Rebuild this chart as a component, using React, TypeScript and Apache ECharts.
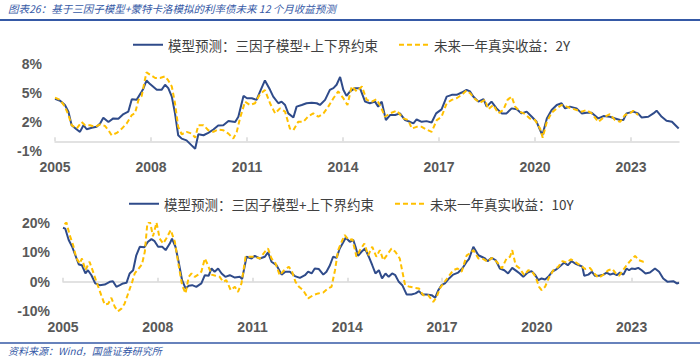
import React, { useEffect, useRef } from "react";
import * as echarts from "echarts";

const TITLE = "图表26：基于三因子模型+蒙特卡洛模拟的利率债未来 12 个月收益预测";
const SOURCE = "资料来源：Wind，国盛证券研究所";
const MODEL_NAME = "模型预测：三因子模型+上下界约束";
const REAL_2Y = "未来一年真实收益：2Y";
const REAL_10Y = "未来一年真实收益：10Y";

const yearTicks = [2005, 2008, 2011, 2014, 2017, 2020, 2023];
const topYTicks = [-1, 2, 5, 8];
const bottomYTicks = [-10, 0, 10, 20];

// [decimal year, %]
const model2Y: [number, number][] = [
  [2005.0, 4.39], [2005.16, 4.2], [2005.31, 3.76], [2005.42, 3.07], [2005.52, 1.67], [2005.68, 1.22], [2005.78, 0.98], [2005.89, 1.67], [2005.99, 1.25], [2006.15, 1.4], [2006.3, 1.5], [2006.41, 1.85], [2006.51, 2.44], [2006.67, 2.0], [2006.82, 2.37], [2006.98, 2.33], [2007.14, 2.82], [2007.29, 3.07], [2007.4, 4.36], [2007.55, 4.29], [2007.71, 5.16], [2007.76, 5.44], [2007.86, 6.3], [2007.97, 5.92], [2008.18, 5.33], [2008.33, 5.33], [2008.44, 5.85], [2008.54, 5.5], [2008.65, 4.63], [2008.75, 2.9], [2008.85, 0.63], [2008.96, 0.28], [2009.11, 0.1], [2009.27, -0.42], [2009.38, -0.77], [2009.48, 0.73], [2009.64, 0.63], [2009.79, 0.87], [2009.95, 1.22], [2010.1, 1.64], [2010.26, 1.67], [2010.42, 2.1], [2010.63, 2.0], [2010.73, 2.54], [2010.89, 4.7], [2011.0, 4.46], [2011.15, 4.46], [2011.3, 4.29],
  [2011.41, 5.16], [2011.56, 6.3], [2011.72, 5.33], [2011.82, 4.63], [2011.98, 3.94], [2012.08, 4.11], [2012.19, 3.76], [2012.29, 2.89], [2012.45, 2.47], [2012.55, 3.59], [2012.71, 3.76], [2012.86, 3.94], [2013.02, 4.0], [2013.18, 3.94], [2013.28, 3.76], [2013.44, 4.29], [2013.59, 5.33], [2013.7, 5.5], [2013.8, 5.85], [2013.91, 6.66], [2014.01, 5.33], [2014.11, 4.7], [2014.22, 5.16], [2014.38, 5.5], [2014.53, 5.5], [2014.69, 4.11], [2014.84, 3.94], [2015.0, 4.11], [2015.1, 3.59], [2015.21, 4.11], [2015.34, 2.2], [2015.47, 2.72], [2015.63, 2.72], [2015.78, 2.89], [2015.94, 2.2], [2016.09, 2.02], [2016.2, 1.85], [2016.3, 2.26], [2016.46, 2.02], [2016.61, 2.09], [2016.77, 1.95], [2016.91, 2.89], [2017.08, 3.31], [2017.24, 4.63], [2017.4, 4.81], [2017.55, 4.81], [2017.71, 5.05], [2017.86, 5.33],
  [2017.97, 5.16], [2018.07, 4.63], [2018.23, 4.11], [2018.39, 4.36], [2018.49, 3.59], [2018.64, 4.11], [2018.8, 3.41], [2018.96, 2.89], [2019.11, 2.89], [2019.27, 3.41], [2019.43, 3.31], [2019.58, 2.89], [2019.74, 3.07], [2019.9, 2.54], [2020.05, 2.02], [2020.16, 1.15], [2020.23, 0.63], [2020.37, 2.37], [2020.52, 3.24], [2020.68, 3.76], [2020.83, 3.94], [2020.94, 3.41], [2021.09, 3.59], [2021.3, 3.41], [2021.46, 2.89], [2021.61, 2.96], [2021.77, 2.96], [2021.98, 2.37], [2022.14, 2.61], [2022.34, 2.54], [2022.5, 2.37], [2022.66, 2.2], [2022.76, 2.2], [2022.86, 2.89], [2023.07, 3.07], [2023.22, 2.89], [2023.33, 2.47], [2023.54, 2.54], [2023.7, 2.89], [2023.8, 3.17], [2023.96, 2.54], [2024.11, 2.13], [2024.28, 2.02], [2024.49, 1.32],
];

const real2Y: [number, number][] = [
  [2005.0, 4.53], [2005.16, 4.29], [2005.31, 3.59], [2005.42, 2.72], [2005.52, 1.67], [2005.68, 1.32], [2005.83, 2.0], [2005.94, 1.67], [2006.09, 1.67], [2006.25, 1.5], [2006.41, 1.74], [2006.56, 1.6], [2006.67, 1.15], [2006.77, 0.63], [2006.93, 0.87], [2007.09, 1.32], [2007.24, 1.85], [2007.4, 2.72], [2007.5, 2.9], [2007.61, 4.29], [2007.71, 4.7], [2007.81, 6.38], [2007.86, 7.14], [2007.97, 6.9], [2008.13, 6.55], [2008.28, 6.55], [2008.44, 6.72], [2008.54, 6.3], [2008.65, 5.68], [2008.75, 3.94], [2008.85, 1.5], [2008.96, 0.73], [2009.11, 0.98], [2009.27, 0.8], [2009.38, 0.38], [2009.48, 1.67], [2009.64, 1.67], [2009.79, 1.15], [2009.95, 0.98], [2010.1, 1.22], [2010.26, 1.15], [2010.42, 0.8], [2010.57, 0.28], [2010.68, 0.98], [2010.78, 2.37], [2010.94, 4.11], [2011.09, 3.76], [2011.25, 3.94],
  [2011.41, 4.9], [2011.56, 5.3], [2011.72, 3.94], [2011.88, 2.89], [2012.03, 3.41], [2012.19, 3.07], [2012.34, 1.32], [2012.45, 1.15], [2012.6, 2.02], [2012.76, 2.02], [2012.92, 2.61], [2013.07, 2.89], [2013.23, 2.54], [2013.39, 2.89], [2013.54, 3.59], [2013.7, 4.46], [2013.85, 5.16], [2014.01, 4.46], [2014.14, 3.76], [2014.27, 5.68], [2014.43, 5.16], [2014.59, 5.68], [2014.74, 4.29], [2014.9, 4.11], [2015.05, 4.36], [2015.18, 3.59], [2015.31, 2.54], [2015.47, 2.89], [2015.68, 3.17], [2015.89, 2.37], [2016.04, 2.2], [2016.15, 1.32], [2016.3, 1.5], [2016.46, 1.5], [2016.61, 1.22], [2016.77, 0.98], [2016.93, 2.2], [2017.08, 2.54], [2017.24, 3.94], [2017.4, 4.29], [2017.55, 4.46], [2017.71, 4.81], [2017.86, 5.26],
  [2017.97, 4.98], [2018.13, 4.36], [2018.28, 4.0], [2018.44, 4.29], [2018.54, 3.31], [2018.7, 3.76], [2018.85, 2.89], [2019.01, 3.24], [2019.14, 4.29], [2019.27, 4.63], [2019.38, 3.59], [2019.53, 3.07], [2019.69, 2.82], [2019.84, 2.37], [2020.0, 2.2], [2020.16, 1.32], [2020.24, 0.38], [2020.37, 2.02], [2020.52, 2.96], [2020.68, 3.41], [2020.83, 3.76], [2020.99, 3.59], [2021.14, 3.41], [2021.3, 3.24], [2021.46, 3.07], [2021.61, 3.24], [2021.77, 2.89], [2021.98, 2.02], [2022.14, 2.47], [2022.34, 2.82], [2022.5, 2.2], [2022.66, 2.02], [2022.81, 2.72], [2022.97, 2.89], [2023.07, 3.17], [2023.22, 2.72],
];

const model10Y: [number, number][] = [
  [2005.0, 18.37], [2005.07, 18.1], [2005.18, 14.2], [2005.29, 11.9], [2005.39, 9.0], [2005.5, 5.86], [2005.6, 5.6], [2005.71, 2.8], [2005.79, 3.9], [2005.9, 2.2], [2006.02, -0.6], [2006.16, -1.2], [2006.32, -0.97], [2006.48, -0.06], [2006.58, 0.17], [2006.69, -1.76], [2006.8, -1.2], [2006.9, -0.6], [2007.01, -0.4], [2007.11, 2.8], [2007.22, 3.9], [2007.32, 9.0], [2007.43, 11.9], [2007.57, 11.7], [2007.69, 13.6], [2007.8, 14.5], [2007.9, 13.8], [2008.01, 11.9], [2008.14, 11.9], [2008.25, 10.75], [2008.38, 13.0], [2008.45, 14.7], [2008.56, 11.9], [2008.66, 6.8], [2008.77, 0.5], [2008.88, -2.3], [2008.98, -1.4], [2009.09, -1.2], [2009.22, -1.76], [2009.38, -0.6], [2009.49, 2.2], [2009.61, 2.0], [2009.7, 4.5], [2009.8, 3.4], [2009.91, 4.5], [2010.02, 2.8], [2010.14, 1.65], [2010.28, 2.2], [2010.44, 1.4], [2010.6, 1.65], [2010.67, 0.85], [2010.81, 8.5], [2010.97, 7.9], [2011.07, 8.8], [2011.23, 7.9],
  [2011.39, 8.5], [2011.49, 10.0], [2011.6, 6.8], [2011.76, 5.6], [2011.92, 2.4], [2012.04, 3.4], [2012.18, 3.4], [2012.34, 1.9], [2012.5, 1.3], [2012.66, 2.2], [2012.76, 3.4], [2012.87, 2.8], [2012.97, 4.5], [2013.1, 4.3], [2013.24, 2.4], [2013.34, 3.4], [2013.45, 5.6], [2013.55, 8.5], [2013.66, 8.1], [2013.76, 11.3], [2013.85, 13.0], [2013.95, 15.0], [2014.08, 13.6], [2014.19, 14.2], [2014.26, 11.9], [2014.34, 8.8], [2014.45, 10.2], [2014.56, 11.3], [2014.68, 8.5], [2014.79, 5.6], [2014.89, 2.8], [2015.0, 3.9], [2015.1, 1.1], [2015.21, 2.8], [2015.31, 1.65], [2015.42, 2.8], [2015.52, 2.2], [2015.63, -0.06], [2015.74, -1.2], [2015.88, -4.4], [2016.03, -4.4], [2016.16, -4.0], [2016.27, -3.2], [2016.37, -4.4], [2016.51, -4.4], [2016.67, -4.6], [2016.78, -5.5], [2016.88, -2.9], [2016.98, -1.2], [2017.09, -0.6], [2017.22, 1.1], [2017.35, 2.4], [2017.51, 3.1], [2017.64, 4.5], [2017.78, 6.8], [2017.85, 7.7], [2017.99, 11.9],
  [2018.15, 9.0], [2018.25, 8.5], [2018.36, 7.9], [2018.44, 7.0], [2018.57, 8.1], [2018.7, 7.3], [2018.83, 4.5], [2018.97, 3.9], [2019.09, 2.8], [2019.22, 4.7], [2019.36, 3.6], [2019.46, 2.8], [2019.57, 1.65], [2019.71, 3.1], [2019.83, 3.6], [2019.94, 2.4], [2020.05, 0.5], [2020.15, 1.1], [2020.26, 0.74], [2020.36, 1.65], [2020.49, 3.4], [2020.63, 4.3], [2020.77, 5.6], [2020.87, 6.5], [2020.98, 5.6], [2021.1, 7.0], [2021.21, 6.2], [2021.34, 5.6], [2021.44, 5.1], [2021.5, 2.0], [2021.63, 2.4], [2021.74, 3.4], [2021.84, 2.0], [2021.97, 2.0], [2022.11, 2.4], [2022.21, 3.1], [2022.32, 2.4], [2022.42, 2.8], [2022.53, 2.2], [2022.63, 3.1], [2022.74, 2.4], [2022.84, 4.5], [2022.92, 3.9], [2023.0, 4.5], [2023.11, 4.3], [2023.21, 4.7], [2023.32, 3.9], [2023.44, 2.8], [2023.58, 3.1], [2023.74, 4.5], [2023.87, 3.4], [2024.0, 1.1], [2024.14, -0.06], [2024.32, 0.17], [2024.43, -0.6], [2024.5, -0.4],
];

const real10Y: [number, number][] = [
  [2005.05, 19.6], [2005.11, 20.2], [2005.21, 15.9], [2005.32, 12.5], [2005.42, 8.1], [2005.53, 6.2], [2005.6, 7.9], [2005.71, 3.9], [2005.84, 6.8], [2005.95, 3.4], [2006.06, -0.06], [2006.21, -4.6], [2006.32, -7.8], [2006.43, -7.5], [2006.53, -5.5], [2006.64, -8.6], [2006.74, -10.1], [2006.85, -9.2], [2006.95, -7.5], [2007.08, -3.5], [2007.19, -0.06], [2007.27, 2.8], [2007.4, 4.5], [2007.5, 5.9], [2007.59, 10.2], [2007.67, 19.9], [2007.75, 20.5], [2007.85, 15.5], [2007.96, 20.2], [2008.06, 14.7], [2008.17, 13.0], [2008.27, 14.7], [2008.41, 17.6], [2008.54, 13.6], [2008.66, 5.6], [2008.77, -1.2], [2008.88, -4.0], [2008.98, 1.65], [2009.07, 2.8], [2009.17, 1.65], [2009.28, 2.4], [2009.38, 3.4], [2009.49, 7.9], [2009.59, 5.6], [2009.7, 2.4], [2009.83, 2.0], [2009.96, 1.65], [2010.07, -0.06], [2010.17, 0.5], [2010.31, -2.9], [2010.44, -1.76], [2010.54, -3.5], [2010.65, -0.6], [2010.78, 8.5], [2010.91, 8.5], [2011.07, 8.5], [2011.23, 7.9],
  [2011.39, 10.2], [2011.49, 11.3], [2011.6, 7.9], [2011.73, 6.2], [2011.86, 2.2], [2012.0, 3.9], [2012.15, 5.1], [2012.25, 3.4], [2012.36, -0.06], [2012.47, -1.76], [2012.6, -2.9], [2012.76, -5.7], [2012.92, -4.6], [2013.08, -4.0], [2013.24, -3.7], [2013.39, -2.3], [2013.5, -1.76], [2013.61, 3.9], [2013.71, 10.75], [2013.82, 13.6], [2013.92, 15.9], [2014.05, 14.2], [2014.16, 14.5], [2014.29, 8.5], [2014.4, 10.75], [2014.54, 13.0], [2014.66, 9.0], [2014.79, 11.9], [2014.92, 8.5], [2015.03, 10.75], [2015.14, 7.3], [2015.27, 9.3], [2015.4, 11.3], [2015.52, 10.2], [2015.66, 7.9], [2015.83, -1.2], [2015.98, -1.76], [2016.14, -2.1], [2016.27, -2.3], [2016.4, -4.6], [2016.56, -4.6], [2016.72, -6.9], [2016.83, -5.2], [2016.93, -2.3], [2017.04, -0.6], [2017.2, 1.65], [2017.35, 3.9], [2017.49, 4.5], [2017.62, 3.4], [2017.78, 9.0], [2017.88, 9.6], [2017.99, 10.75],
  [2018.15, 7.9], [2018.31, 7.7], [2018.44, 6.8], [2018.57, 8.1], [2018.73, 6.8], [2018.89, 4.5], [2019.04, 7.9], [2019.15, 8.5], [2019.22, 10.75], [2019.33, 5.6], [2019.46, 4.5], [2019.6, 2.2], [2019.73, 3.9], [2019.85, 3.4], [2019.96, 1.65], [2020.07, -1.76], [2020.15, -2.9], [2020.26, -1.76], [2020.38, 1.3], [2020.52, 3.9], [2020.68, 5.1], [2020.81, 7.0], [2020.94, 6.5], [2021.08, 7.6], [2021.21, 6.8], [2021.37, 5.6], [2021.53, 4.3], [2021.68, 4.7], [2021.82, 2.8], [2021.95, 1.3], [2022.11, 2.4], [2022.26, 3.9], [2022.39, 4.3], [2022.5, 2.8], [2022.6, 2.0], [2022.71, 3.6], [2022.84, 5.6], [2022.95, 7.0], [2023.11, 8.8], [2023.23, 7.3], [2023.37, 6.8], [2023.42, 6.8],
];

const BLUE = "#2F4B8A";
const YELLOW = "#FFC000";
const AXIS_GRAY = "#D9D9D9";
const LABEL_GRAY = "#595959";
const BRAND_BLUE = "#3559A6";

const labelFont = {
  fontFamily: "'Liberation Sans', Arial, sans-serif",
  fontSize: 14,
  fontWeight: "bold" as const,
  color: LABEL_GRAY,
};

function xAxesFor(gridIndex: number) {
  return [
    {
      gridIndex,
      type: "value",
      min: 2005,
      max: 2024.5,
      interval: 1,
      axisLine: { show: true, onZero: true, lineStyle: { color: AXIS_GRAY, width: 1.5 } },
      axisTick: { show: true, inside: true, length: 4, customValues: yearTicks, lineStyle: { color: AXIS_GRAY, width: 1.5 } },
      axisLabel: { show: false },
      splitLine: { show: false },
    },
    {
      gridIndex,
      type: "value",
      position: "bottom",
      min: 2005,
      max: 2024.5,
      interval: 1,
      axisLine: { show: false, onZero: false },
      axisTick: { show: false },
      splitLine: { show: false },
      axisLabel: {
        ...labelFont,
        margin: 9,
        customValues: yearTicks,
        formatter: (v: number) => (yearTicks.includes(Math.round(v)) && Math.abs(v - Math.round(v)) < 1e-6 ? String(Math.round(v)) : ""),
      },
    },
  ];
}

export default function App() {
  const ref = useRef<HTMLDivElement>(null);
  useEffect(() => {
    if (!ref.current) return;
    const chart = echarts.init(ref.current, undefined, { renderer: "svg" });
    const legendText = {
      fontFamily: "'Noto Sans CJK SC', sans-serif",
      fontSize: 13.5,
      color: "#404040",
    };
    const legendBase = {
      itemWidth: 30,
      itemHeight: 14,
      itemGap: 20,
      itemStyle: { opacity: 0 },
      textStyle: legendText,
    };
    chart.setOption({
      animation: false,
      backgroundColor: "#ffffff",
      grid: [
        { left: 55, top: 64, width: 624, height: 87 },
        { left: 63, top: 223, width: 616, height: 88 },
      ],
      legend: [
        { ...legendBase, left: 127, top: 33, data: [MODEL_NAME, REAL_2Y] },
        { ...legendBase, left: 123, top: 192, data: [MODEL_NAME, REAL_10Y] },
      ],
      xAxis: [...xAxesFor(0), ...xAxesFor(1)],
      yAxis: [
        {
          gridIndex: 0,
          type: "value",
          min: -1,
          max: 8,
          interval: 1,
          axisLine: { show: false },
          axisTick: { show: false },
          splitLine: { show: false },
          axisLabel: {
            ...labelFont,
            margin: 13,
            customValues: topYTicks,
            formatter: (v: number) => (topYTicks.includes(Math.round(v)) ? `${Math.round(v)}%` : ""),
          },
        },
        {
          gridIndex: 1,
          type: "value",
          min: -10,
          max: 20,
          interval: 10,
          axisLine: { show: false },
          axisTick: { show: false },
          splitLine: { show: false },
          axisLabel: {
            ...labelFont,
            margin: 13,
            customValues: bottomYTicks,
            formatter: (v: number) => `${v}%`,
          },
        },
      ],
      series: [
        { name: MODEL_NAME, type: "line", xAxisIndex: 0, yAxisIndex: 0, data: model2Y, symbol: "none", lineStyle: { color: BLUE, width: 2 }, itemStyle: { color: BLUE } },
        { name: REAL_2Y, type: "line", xAxisIndex: 0, yAxisIndex: 0, data: real2Y, symbol: "none", lineStyle: { color: YELLOW, width: 2, type: [5, 3] }, itemStyle: { color: YELLOW } },
        { name: MODEL_NAME, type: "line", xAxisIndex: 2, yAxisIndex: 1, data: model10Y, symbol: "none", lineStyle: { color: BLUE, width: 2 }, itemStyle: { color: BLUE } },
        { name: REAL_10Y, type: "line", xAxisIndex: 2, yAxisIndex: 1, data: real10Y, symbol: "none", lineStyle: { color: YELLOW, width: 2, type: [5, 3] }, itemStyle: { color: YELLOW } },
      ],
      graphic: [
        {
          type: "text",
          left: 8,
          top: 3,
          style: {
            text: TITLE,
            fontSize: 10.5,
            fontStyle: "italic",
            fontFamily: "'Noto Sans CJK SC', sans-serif",
            fill: BRAND_BLUE,
          },
        },
        { type: "line", shape: { x1: 0, y1: 20, x2: 700, y2: 20 }, style: { stroke: BRAND_BLUE, lineWidth: 2 } },
        { type: "line", shape: { x1: 0, y1: 343, x2: 700, y2: 343 }, style: { stroke: BRAND_BLUE, lineWidth: 1.5 } },
        {
          type: "text",
          left: 8,
          top: 345,
          style: {
            text: SOURCE,
            fontSize: 10,
            fontStyle: "italic",
            fontFamily: "'Noto Sans CJK SC', sans-serif",
            fill: BRAND_BLUE,
          },
        },
      ],
    });
    return () => chart.dispose();
  }, []);
  return <div ref={ref} style={{ position: "absolute", left: 0, top: 0, width: 700, height: 358 }} />;
}
